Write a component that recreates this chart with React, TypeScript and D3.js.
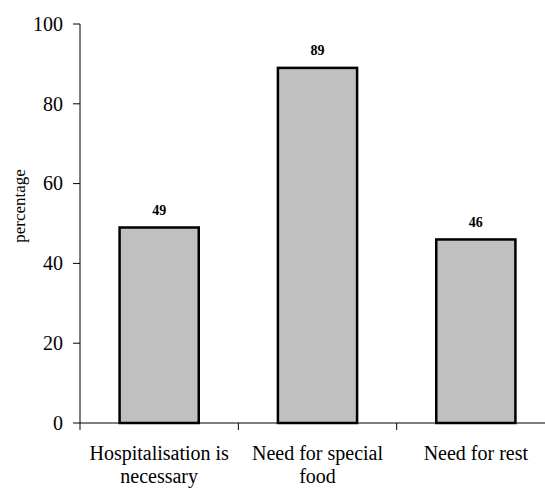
import React from "react";
import * as d3 from "d3";

const categories: string[][] = [
  ["Hospitalisation is", "necessary"],
  ["Need for special", "food"],
  ["Need for rest"],
];
const values: number[] = [49, 89, 46];
const yTicks: number[] = [0, 20, 40, 60, 80, 100];

const W = 545;
const H = 489;
const margin = { left: 80, top: 24, bottom: 66 };
const plotRight = 555;
const font = "Liberation Serif, Times New Roman, Times, serif";

export default function App() {
  const y = d3.scaleLinear().domain([0, 100]).range([H - margin.bottom, margin.top]);
  const x = d3
    .scaleBand<number>()
    .domain(values.map((_, i) => i))
    .range([margin.left, plotRight])
    .paddingInner(0.5)
    .paddingOuter(0.25);
  const step = x.step();
  const y0 = y(0);
  const ts = { fontFamily: font };
  return (
    <svg
      width={W}
      height={H}
      style={{ position: "absolute", left: 0, top: 0, background: "#fff", fontFamily: font }}
    >
      {values.map((v, i) => (
        <g key={i}>
          <rect
            x={x(i)!}
            y={y(v)}
            width={x.bandwidth()}
            height={y0 - y(v)}
            fill="#c0c0c0"
            stroke="#000"
            strokeWidth={2.5}
          />
          <text
            x={x(i)! + x.bandwidth() / 2}
            y={y(v) - 12.5}
            textAnchor="middle"
            fontSize={14}
            fontWeight="bold"
            style={ts}
          >
            {v}
          </text>
        </g>
      ))}
      <line x1={margin.left} x2={margin.left} y1={y(100)} y2={y0} stroke="#000" />
      <line x1={margin.left} x2={plotRight} y1={y0} y2={y0} stroke="#000" />
      {yTicks.map((t) => (
        <g key={t}>
          <line x1={margin.left - 7} x2={margin.left} y1={y(t)} y2={y(t)} stroke="#000" />
          <text x={margin.left - 17} y={y(t)} dy="0.34em" textAnchor="end" fontSize={20} style={ts}>
            {t}
          </text>
        </g>
      ))}
      {values.map((_, i) => (
        <line
          key={i}
          x1={margin.left + step * i}
          x2={margin.left + step * i}
          y1={y0}
          y2={y0 + 7}
          stroke="#000"
        />
      ))}
      {categories.map((lines, i) => (
        <text
          key={i}
          x={x(i)! + x.bandwidth() / 2}
          y={y0 + 37}
          textAnchor="middle"
          fontSize={20}
          style={ts}
        >
          {lines.map((l, j) => (
            <tspan key={j} x={x(i)! + x.bandwidth() / 2} dy={j === 0 ? 0 : 23}>
              {l}
            </tspan>
          ))}
        </text>
      ))}
      <text
        transform={`translate(25,206) rotate(-90)`}
        textAnchor="middle"
        fontSize={17}
        style={ts}
      >
        percentage
      </text>
    </svg>
  );
}
